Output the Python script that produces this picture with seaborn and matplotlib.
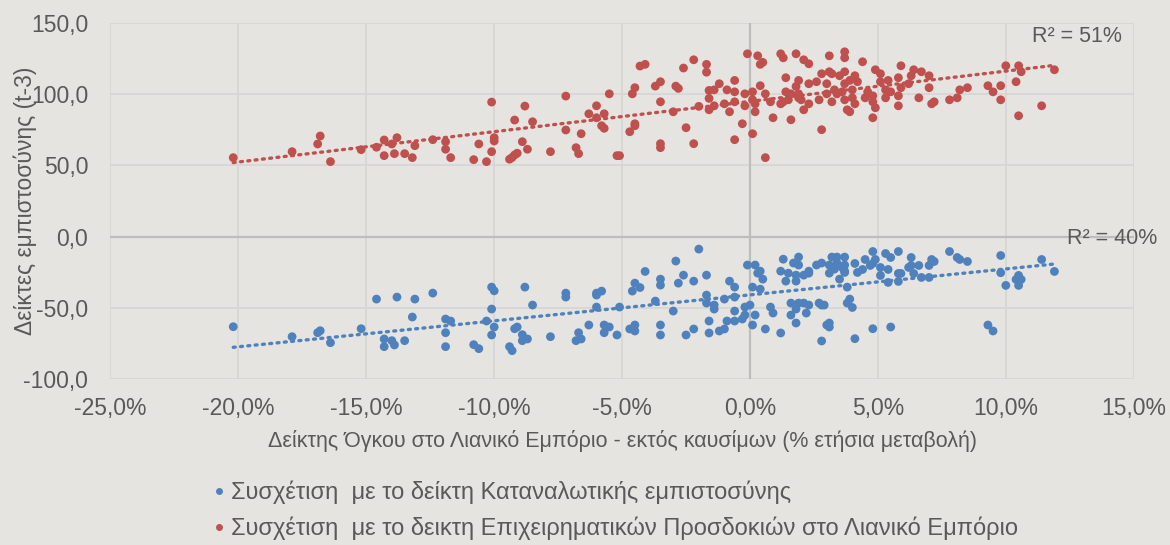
import numpy as np
import pandas as pd
import matplotlib
matplotlib.use('Agg')
import matplotlib.pyplot as plt
from matplotlib.ticker import FuncFormatter, MultipleLocator
from matplotlib.lines import Line2D
import seaborn as sns

# retail volume index (% yoy) vs business expectations in retail (t-3)
red_x = [-20.2, -17.9, -16.9, -16.8, -16.4, -15.2, -14.6, -14.3, -14.3, -14.0, -13.8, -13.9, -13.5, -13.2,
         -13.1, -12.4, -11.9, -11.9, -11.7, -10.8, -10.6, -10.3, -10.1, -10.1, -10.0, -10.0, -9.4, -9.3,
         -9.2, -9.2, -9.1, -8.9, -8.8, -8.7, -8.5, -7.8, -7.2, -7.2, -6.8, -6.7, -6.6, -6.3, -6.0, -6.0,
         -5.8, -5.7, -5.7, -5.5, -5.2, -5.1, -4.7, -4.6, -4.5, -4.5, -4.5, -4.3, -4.1, -3.7, -3.5, -3.5,
         -3.5, -3.5, -3.0, -2.9, -2.8, -2.6, -2.5, -2.2, -2.2, -2.0, -1.7, -1.7, -1.6, -1.6, -1.6, -1.4,
         -1.4, -1.2, -1.0, -0.9, -0.8, -0.6, -0.6, -0.6, -0.6, -0.3, -0.2, -0.2, -0.1, 0.1, 0.1, 0.1,
         0.2, 0.2, 0.3, 0.4, 0.4, 0.5, 0.6, 0.6, 0.8, 0.9, 1.2, 1.2, 1.3, 1.3, 1.4, 1.4, 1.5, 1.6, 1.6,
         1.8, 1.8, 1.9, 1.9, 1.9, 2.0, 2.1, 2.1, 2.3, 2.3, 2.3, 2.6, 2.7, 2.8, 2.8, 3.0, 3.0, 3.1, 3.1,
         3.2, 3.2, 3.3, 3.4, 3.5, 3.7, 3.7, 3.7, 3.7, 3.8, 3.7, 3.9, 4.1, 4.2, 3.6, 4.0, 4.0, 4.1, 3.9,
         4.4, 4.5, 4.6, 4.8, 4.8, 4.8, 4.9, 4.9, 5.1, 5.1, 5.4, 5.3, 5.5, 5.3, 5.8, 5.9, 5.8, 5.8, 5.9,
         6.2, 6.3, 6.4, 6.7, 6.6, 7.0, 7.0, 7.1, 7.2, 7.8, 8.1, 8.2, 8.5, 9.3, 9.5, 9.8, 9.8, 10.0, 10.4,
         10.5, 10.6, 10.5, 11.4, 11.9]
red_y = [55.4, 59.6, 65.0, 70.6, 52.6, 61.0, 62.7, 67.8, 56.8, 65.0, 69.4, 58.2, 58.2, 55.4,
         63.8, 68.0, 66.6, 61.3, 55.4, 54.0, 65.0, 52.6, 94.4, 59.6, 69.4, 67.1, 54.3, 55.5,
         81.8, 57.3, 58.5, 66.6, 91.6, 61.3, 80.6, 59.6, 98.6, 74.8, 62.4, 58.2, 72.2, 86.2, 91.8, 83.4,
         77.8, 76.0, 86.2, 100.2, 56.8, 56.8, 73.6, 100.2, 77.8, 104.5, 79.2, 119.7, 120.9, 105.6, 108.7, 94.6,
         65.2, 62.4, 87.6, 105.6, 104.0, 118.3, 76.4, 124.1, 65.2, 91.4, 120.9, 115.4, 102.6, 97.0, 89.0, 103.0,
         91.8, 107.3, 93.2, 103.0, 87.6, 109.6, 94.6, 101.6, 68.0, 79.2, 100.2, 91.8, 128.3, 96.0, 101.6, 72.2,
         93.2, 87.6, 126.9, 105.9, 120.9, 122.3, 100.2, 55.4, 94.6, 83.4, 93.2, 128.3, 125.5, 94.6, 111.5, 101.6, 96.0, 82.0, 100.2,
         128.3, 105.4, 109.6, 97.4, 100.2, 96.0, 124.1, 89.0, 121.3, 107.3, 93.2, 108.7, 96.0, 114.3, 75.0, 100.2, 107.3, 126.9, 115.7,
         114.3, 94.6, 103.0, 100.2, 112.9, 129.7, 125.5, 115.7, 96.0, 89.0, 107.3, 109.6, 112.9, 108.7, 101.6, 103.0, 97.4, 93.2, 87.6,
         122.7, 97.4, 101.6, 94.6, 98.8, 83.4, 90.4, 117.1, 114.3, 108.7, 109.6, 103.0, 101.6, 97.4, 111.5, 104.5, 98.8, 91.8, 119.9,
         107.3, 112.9, 117.1, 115.7, 97.4, 112.9, 104.5, 93.2, 94.6, 96.0, 97.4, 103.0, 104.5, 105.9, 101.6, 105.9, 96.0, 119.9, 108.7,
         119.9, 115.7, 84.8, 91.8, 117.1]

# retail volume index (% yoy) vs consumer confidence (t-3)
blue_x = [-20.2, -17.9, -16.9, -16.8, -16.4, -15.2, -14.6, -14.3, -14.3, -14.0, -13.9, -13.8, -13.5, -13.2,
          -13.1, -12.4, -11.9, -11.9, -11.9, -11.7, -10.8, -10.6, -10.3, -10.1, -10.0, -10.1, -10.0, -10.1,
          -9.4, -9.3, -9.2, -9.1, -8.9, -8.9, -8.7, -8.8, -8.5, -7.8, -7.2, -7.2, -6.8, -6.7, -6.6, -6.3,
          -6.0, -6.0, -5.8, -6.0, -5.7, -5.7, -5.5, -5.2, -5.1, -4.7, -4.6, -4.5, -4.5, -4.5, -4.3, -4.1,
          -3.7, -3.5, -3.5, -3.5, -3.5, -3.0, -2.9, -2.8, -2.6, -2.5, -2.2, -2.2, -2.0, -1.7, -1.7, -1.7,
          -1.6, -1.6, -1.4, -1.4, -1.2, -1.0, -1.0, -0.9, -0.8, -0.6, -0.6, -0.6, -0.6, -0.3, -0.2, -0.2,
          -0.1, 0.0, 0.1, 0.1, 0.2, 0.2, 0.3, 0.4, 0.4, 0.5, 0.6, 0.8, 0.9, 1.2, 1.3, 1.2, 1.4, 1.5, 1.6,
          1.6, 1.7, 1.8, 1.8, 1.8, 1.8, 1.9, 1.9, 1.9, 2.1, 2.1, 2.2, 2.3, 2.3, 2.3, 2.6, 2.7, 2.8, 2.8,
          2.8, 2.9, 3.0, 3.1, 3.1, 3.1, 3.1, 3.2, 3.3, 3.4, 3.4, 3.5, 3.7, 3.7, 3.7, 3.8, 3.8, 3.6, 3.7,
          3.9, 4.0, 4.1, 4.1, 4.2, 4.4, 4.5, 4.7, 4.8, 4.8, 4.8, 4.9, 5.1, 5.1, 5.3, 5.4, 5.5, 5.4, 5.5,
          5.8, 5.8, 5.8, 5.9, 6.2, 6.3, 6.3, 6.4, 6.6, 6.7, 7.0, 7.0, 7.1, 7.2, 7.8, 8.1, 8.2, 8.5, 9.3,
          9.5, 9.8, 9.8, 10.0, 10.5, 10.4, 10.6, 10.5, 11.4, 11.9]
blue_y = [-63.3, -70.3, -67.5, -66.1, -74.5, -64.7, -43.9, -71.9, -77.3, -73.1, -76.1, -42.5, -73.1, -56.5,
          -43.9, -39.7, -57.9, -67.5, -77.3, -59.3, -75.9, -78.7, -59.3, -35.5, -38.1, -50.9, -63.5, -69.1,
          -77.3, -80.1, -64.7, -63.5, -68.9, -73.1, -71.9, -35.5, -48.1, -70.3, -39.7, -42.5, -73.1, -67.5, -71.9, -62.1,
          -41.1, -39.7, -38.3, -49.5, -62.1, -67.5, -63.5, -69.1, -49.5, -64.9, -38.3, -66.3, -62.1, -32.7, -35.8, -24.5,
          -45.3, -29.9, -34.1, -62.1, -69.1, -52.3, -17.2, -32.7, -27.1, -69.1, -31.3, -64.9, -8.8, -27.1, -41.1, -46.7,
          -59.3, -67.7, -48.1, -50.9, -66.3, -64.9, -43.9, -59.3, -31.3, -35.5, -42.5, -52.3, -59.3, -57.9, -49.5, -55.1,
          -20.0, -48.1, -35.5, -62.1, -20.0, -55.1, -25.7, -24.3, -36.9, -29.9, -64.9, -49.5, -53.7, -67.7, -15.9, -24.3, -31.3, -25.7, -46.7,
          -55.1, -18.6, -27.1, -31.3, -50.9, -60.7, -14.4, -20.0, -46.7, -27.1, -46.7, -53.7, -25.7, -24.3, -48.1, -20.0, -46.7, -18.6, -48.1,
          -73.3, -48.1, -62.1, -60.7, -63.5, -20.0, -25.7, -14.4, -22.9, -18.6, -14.4, -29.9, -14.4, -20.0, -24.3, -35.5, -46.7, -21.7, -25.2,
          -43.9, -49.8, -71.7, -18.9, -25.2, -23.1, -16.1, -20.3, -10.5, -18.9, -64.7, -16.1, -27.3, -21.7, -11.9, -23.1, -14.7, -32.2, -63.5,
          -10.5, -25.9, -31.5, -25.9, -21.7, -14.7, -20.3, -25.9, -20.3, -28.7, -20.3, -28.7, -16.1, -17.5, -10.5, -14.7, -16.1, -17.5, -62.1,
          -66.3, -13.3, -25.4, -34.3, -27.3, -30.1, -30.1, -34.3, -16.1, -24.5]

series_names = ['Συσχέτιση  με το δείκτη Καταναλωτικής εμπιστοσύνης',
                'Συσχέτιση  με το δεικτη Επιχειρηματικών Προσδοκιών στο Λιανικό Εμπόριο']
r2_labels = ['R² = 40%', 'R² = 51%']
xlabel = 'Δείκτης Όγκου στο Λιανικό Εμπόριο - εκτός καυσίμων (% ετήσια μεταβολή)'
ylabel = 'Δείκτες εμπιστοσύνης (t-3)'

blue = '#4F81BD'
red = '#C0504D'
bg = '#E5E4E0'
txt = '#595959'

df = pd.concat([
    pd.DataFrame({'x': blue_x, 'y': blue_y, 'series': series_names[0]}),
    pd.DataFrame({'x': red_x, 'y': red_y, 'series': series_names[1]}),
])

sns.set_style('white')
plt.rcParams['font.family'] = ['Liberation Sans', 'DejaVu Sans']

fig = plt.figure(figsize=(11.7, 5.45), dpi=100, facecolor=bg)
ax = fig.add_axes([0.0944, 0.3046, 0.969 - 0.0944, 0.958 - 0.3046])
ax.set_facecolor(bg)

sns.scatterplot(data=df, x='x', y='y', hue='series', palette=[blue, red],
                s=40, edgecolor='none', legend=False, ax=ax, zorder=3)
for name, col in zip(series_names, [blue, red]):
    sub = df[df['series'] == name]
    sns.regplot(data=sub, x='x', y='y', scatter=False, ci=None, ax=ax,
                line_kws={'color': col, 'linestyle': (0, (0.6, 1.6)), 'linewidth': 2.4,
                          'dash_capstyle': 'round', 'zorder': 4})

ax.set_xlim(-25, 15)
ax.set_ylim(-100, 150)
ax.xaxis.set_major_locator(MultipleLocator(5))
ax.yaxis.set_major_locator(MultipleLocator(50))
ax.xaxis.set_major_formatter(FuncFormatter(lambda v, p: f'{v:.1f}%'.replace('.', ',')))
ax.yaxis.set_major_formatter(FuncFormatter(lambda v, p: f'{v:.1f}'.replace('.', ',')))
ax.grid(True, color='#D6D6D4', linewidth=1.3, zorder=0)
ax.axhline(0, color='#BDBDBD', linewidth=1.6, zorder=1)
ax.axvline(0, color='#BDBDBD', linewidth=1.6, zorder=1)
for sp in ax.spines.values():
    sp.set_visible(False)
ax.tick_params(axis='both', length=0, labelsize=16.5, labelcolor=txt)
ax.tick_params(axis='x', pad=13)
ax.tick_params(axis='y', pad=16)
ax.set_xlabel(xlabel, fontsize=15.5, color=txt, labelpad=7)
ax.set_ylabel(ylabel, fontsize=16.5, color=txt, labelpad=-10)

ax.text(14.55, 140.7, r2_labels[1], ha='right', va='center', fontsize=15.5, color=txt, zorder=5)
ax.text(15.9, -1.6, r2_labels[0], ha='right', va='center', fontsize=15.5, color=txt,
        clip_on=False, zorder=5)

handles = [Line2D([], [], marker='o', linestyle='none', markersize=5, color=c,
                  markeredgewidth=0) for c in [blue, red]]
fig.legend(handles, series_names, loc='upper left', bbox_to_anchor=(198 / 1170, 1 - 471 / 545),
           frameon=False, fontsize=17, labelcolor=txt, handletextpad=0.0,
           labelspacing=0.55, borderaxespad=0, handlelength=1.0)

fig.savefig('out.png', dpi=100, facecolor=bg)
